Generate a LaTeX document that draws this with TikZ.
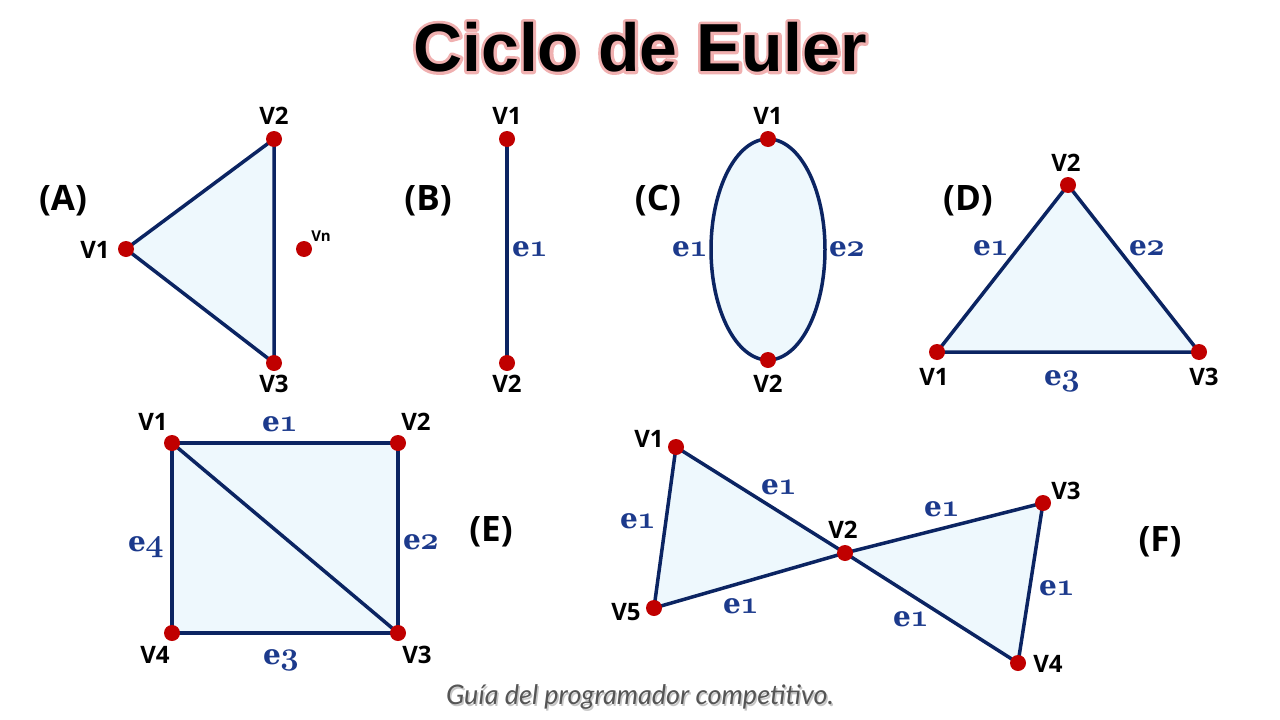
\RequirePackage{fix-cm}
\documentclass[tikz,border=0pt]{standalone}
\usepackage{fontspec}
\usetikzlibrary{calc}
\newfontfamily\vfont{Open Sans}
\newfontfamily\efont{DejaVu Serif}
\newfontfamily\tfont{Liberation Sans}
\newfontfamily\ffont{Lato}
\newcommand\osdig[1]{{\usefont{OML}{cmm}{b}{it}\fontsize{32}{32}\selectfont #1}}
\definecolor{navy}{HTML}{0B2462}
\definecolor{elab}{HTML}{1C3A8C}
\definecolor{dotred}{HTML}{C00000}
\definecolor{fillblue}{HTML}{EEF8FD}
\definecolor{glow}{HTML}{F0B0B0}
\definecolor{foot}{HTML}{555555}
\tikzset{
  vtx/.style={circle, fill=dotred, inner sep=0pt, minimum size=16pt},
  vlbl/.style={font=\vfont\bfseries\fontsize{24}{24}\selectfont, text=black, inner sep=0pt},
  glbl/.style={font=\vfont\bfseries\fontsize{35}{35}\selectfont, text=black, inner sep=0pt},
  elbl/.style={font=\efont\bfseries\fontsize{28}{28}\selectfont, text=elab, inner sep=0pt},
  edge/.style={draw=navy, line width=3.5pt, line join=round},
  ttl/.style={font=\tfont\bfseries\fontsize{68}{68}\selectfont, inner sep=0pt},
}
\newcommand\elab[2]{#1\kern-0.5pt\osdig{#2}}
\begin{document}
\begin{tikzpicture}[x=1pt,y=-1pt]
\useasboundingbox[fill=white] (0,0) rectangle (1280,720);
% title with pink halo
\node[ttl, text=glow] (titleglow) at (640,47) {\special{pdf:literal direct 2 Tr 6 w 1 j}Ciclo de Euler\special{pdf:literal direct 0 Tr}};
\node[ttl, text=black] (title) at (640,47) {Ciclo de Euler};
% ---------- (A)
\coordinate (A1) at (126,249);
\coordinate (A2) at (274,139);
\coordinate (A3) at (274,363);
\coordinate (An) at (304,249);
\draw[edge, fill=fillblue] (A1) -- (A2) -- (A3) -- cycle;
\foreach \p in {A1,A2,A3,An} \node[vtx] at (\p) {};
\node[vlbl] (lA1) at (95,250) {V1};
\node[vlbl] (lA2) at (274,116) {V2};
\node[vlbl] (lA3) at (274,384) {V3};
\node[font=\vfont\bfseries\fontsize{15}{15}\selectfont, inner sep=0pt] (lAn) at (321,236) {Vn};
\node[glbl] (gA) at (63,201) {(A)};
% ---------- (B)
\coordinate (B1) at (507,139);
\coordinate (B2) at (507,363);
\draw[edge] (B1) -- (B2);
\foreach \p in {B1,B2} \node[vtx] at (\p) {};
\node[vlbl] (lB1) at (507,116) {V1};
\node[vlbl] (lB2) at (507,384) {V2};
\node[elbl] (eB1) at (530,249) {\elab{e}{1}};
\node[glbl] (gB) at (428,201) {(B)};
% ---------- (C)
\coordinate (C1) at (768,139);
\coordinate (C2) at (768,360);
\draw[edge, fill=fillblue] (768,249.5) ellipse [x radius=57, y radius=110.5];
\foreach \p in {C1,C2} \node[vtx] at (\p) {};
\node[vlbl] (lC1) at (768,116) {V1};
\node[vlbl] (lC2) at (768,384) {V2};
\node[elbl] (eC1) at (690,249) {\elab{e}{1}};
\node[elbl] (eC2) at (847,249) {\elab{e}{2}};
\node[glbl] (gC) at (658,201) {(C)};
% ---------- (D)
\coordinate (D1) at (937,352);
\coordinate (D2) at (1068,185);
\coordinate (D3) at (1199,352);
\draw[edge, fill=fillblue] (D1) -- (D2) -- (D3) -- cycle;
\foreach \p in {D1,D2,D3} \node[vtx] at (\p) {};
\node[vlbl] (lD1) at (934,377) {V1};
\node[vlbl] (lD2) at (1066,163) {V2};
\node[vlbl] (lD3) at (1204,377) {V3};
\node[elbl] (eD1) at (991,248) {\elab{e}{1}};
\node[elbl] (eD2) at (1147,248) {\elab{e}{2}};
\node[elbl] (eD3) at (1062,381) {\elab{e}{3}};
\node[glbl] (gD) at (968,201) {(D)};
% ---------- (E)
\coordinate (E1) at (172,443);
\coordinate (E2) at (398,443);
\coordinate (E3) at (398,633);
\coordinate (E4) at (172,633);
\draw[edge, fill=fillblue] (E1) -- (E2) -- (E3) -- (E4) -- cycle;
\draw[edge] (E1) -- (E3);
\foreach \p in {E1,E2,E3,E4} \node[vtx] at (\p) {};
\node[vlbl] (lE1) at (153,422) {V1};
\node[vlbl] (lE2) at (416,422) {V2};
\node[vlbl] (lE3) at (417,655) {V3};
\node[vlbl] (lE4) at (155,655) {V4};
\node[elbl] (eE1) at (280,424) {\elab{e}{1}};
\node[elbl] (eE2) at (421,542) {\elab{e}{2}};
\node[elbl] (eE3) at (281,660) {\elab{e}{3}};
\node[elbl] (eE4) at (146,547) {\elab{e}{4}};
\node[glbl] (gE) at (491,532) {(E)};
% ---------- (F)
\coordinate (F1) at (676,447);
\coordinate (F2) at (845,553);
\coordinate (F3) at (1043,503);
\coordinate (F4) at (1018,663);
\coordinate (F5) at (654,608);
\draw[edge, fill=fillblue] (F1) -- (F2) -- (F5) -- cycle;
\draw[edge, fill=fillblue] (F2) -- (F3) -- (F4) -- cycle;
\foreach \p in {F1,F2,F3,F4,F5} \node[vtx] at (\p) {};
\node[vlbl] (lF1) at (649,439) {V1};
\node[vlbl] (lF2) at (843,530) {V2};
\node[vlbl] (lF3) at (1066,491) {V3};
\node[vlbl] (lF4) at (1048,664) {V4};
\node[vlbl] (lF5) at (626,612) {V5};
\node[elbl] (eF1) at (779,487) {\elab{e}{1}};
\node[elbl] (eF2) at (638,521) {\elab{e}{1}};
\node[elbl] (eF3) at (741,606) {\elab{e}{1}};
\node[elbl] (eF4) at (942,509) {\elab{e}{1}};
\node[elbl] (eF5) at (1057,588) {\elab{e}{1}};
\node[elbl] (eF6) at (911,619) {\elab{e}{1}};
\node[glbl] (gF) at (1160,542) {(F)};
% footer
\node[font=\ffont\itshape\fontsize{27}{27}\selectfont, text=gray!45, inner sep=0pt] (footsh) at (641.5,699.5) {Guía del programador competitivo.};
\node[font=\ffont\itshape\fontsize{27}{27}\selectfont, text=foot, inner sep=0pt] (foot) at (640,697) {Guía del programador competitivo.};
\end{tikzpicture}
\end{document}
